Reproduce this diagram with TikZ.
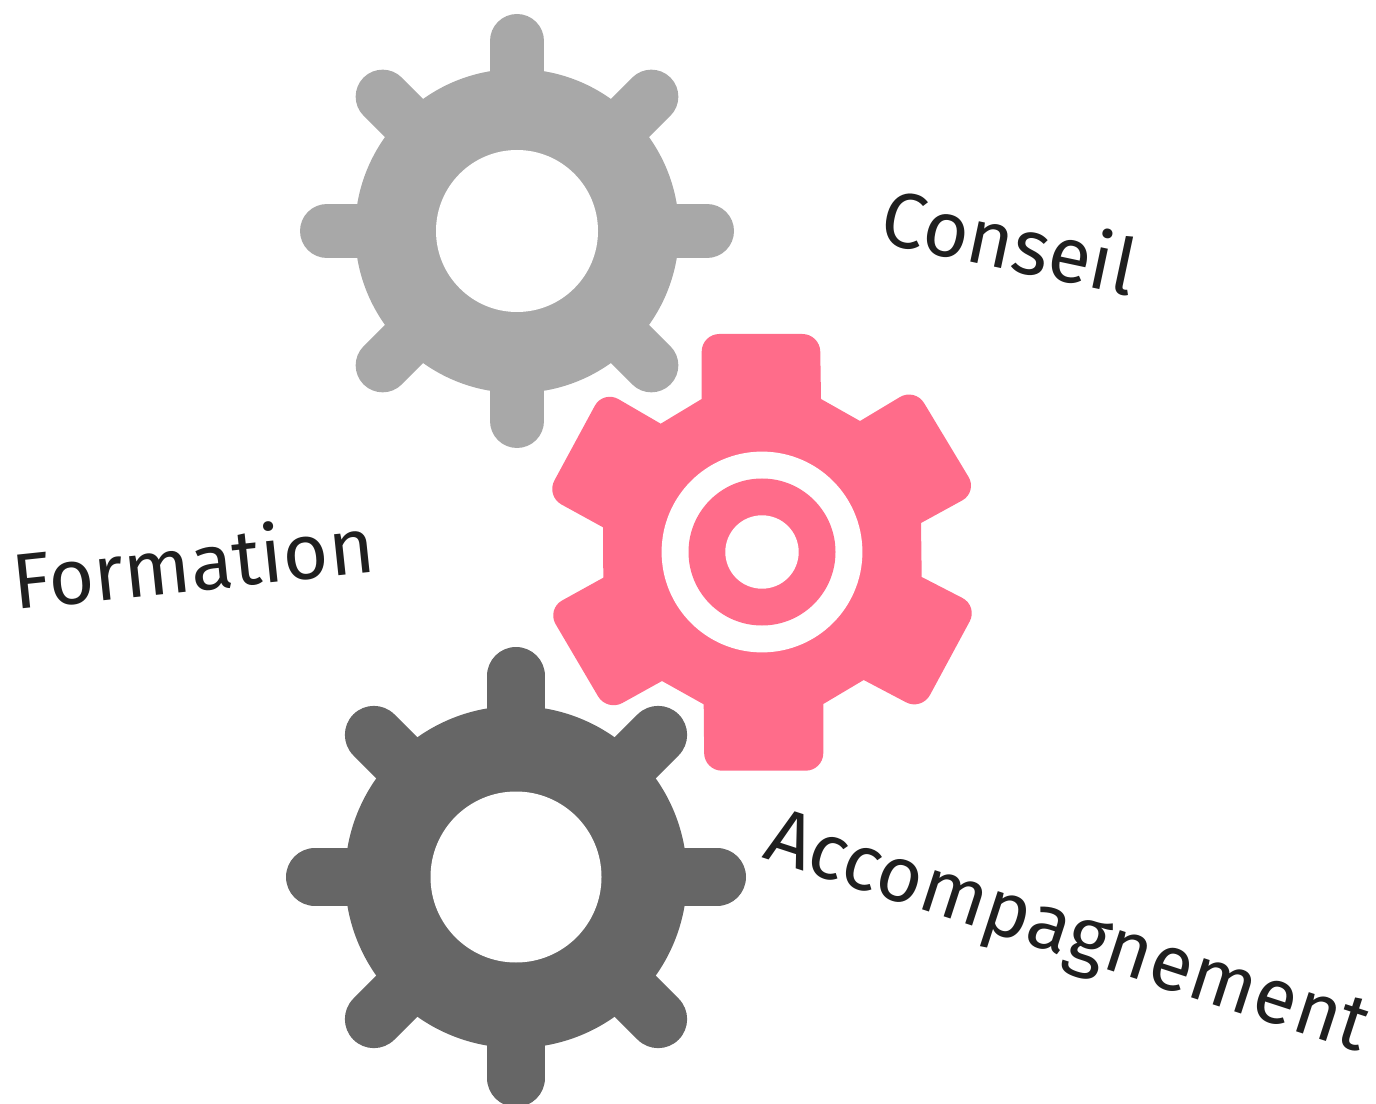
\documentclass[tikz,border=0pt]{standalone}
\usepackage{fontspec}
\setmainfont{Fira Sans}
\definecolor{lightgear}{HTML}{A8A8A8}
\definecolor{darkgear}{HTML}{666666}
\definecolor{pinkgear}{HTML}{FF6C8A}
\definecolor{labelink}{HTML}{1F1F1F}
\newcommand{\roundgear}[5]{%
  \fill[#1] (#2) circle (#3);
  \foreach \toothangle in {0,45,...,315}
    \draw[#1, line width=#5*2*0.02cm, line cap=round] (#2) -- ++(\toothangle:#4-#5);
  \fill[white] (#2) circle (#3*0.5);
}

\begin{document}
\begin{tikzpicture}[
    x=0.02cm,
    y=-0.02cm,
    label text/.style={text=labelink, font=\fontsize{44.5}{44.5}\selectfont, inner sep=0pt},
    tooth/.style={rounded corners=10pt}
    ]

    \useasboundingbox (0,0) rectangle (1376,1104);
    \begin{scope}
      \clip (0,0) rectangle (1376,1104);
      \roundgear{lightgear}{517,231}{162}{217}{27}
      \roundgear{darkgear}{516,877}{171}{230}{29}
    \end{scope}

    % centre gear
    \fill[pinkgear] (701.7,399) [tooth] -- (701.7,334) -- (820,334)
      [sharp corners] -- (821,399) -- (860,421)
      [tooth] -- (915,388) -- (977.6,492)
      [sharp corners] -- (921,523) -- (921.7,577)
      [tooth] -- (978,606) -- (921.6,710.5)
      [sharp corners] -- (863.7,680) -- (823.3,704)
      [tooth] -- (823.3,770.7) -- (704.3,770.7)
      [sharp corners] -- (703.7,704.3) -- (662,681)
      [tooth] -- (607,711.5) -- (546.7,609)
      [sharp corners] -- (603.3,577.7) -- (603,527.3)
      [tooth] -- (546,496) -- (603.2,390.3)
      [sharp corners] -- (660.7,423.7) -- cycle;
    \fill[white] (762,552) circle (100.4);
    \fill[pinkgear] (762,552) circle (73.5);
    \fill[white] (762,552) circle (36.7);

    \node[label text, rotate=-12] (conseil) at (1010,240) {Conseil};
    \node[label text, rotate=6] (formation) at (193,561) {Formation};
    \node[label text, rotate=-18] (accompagnement) at (1066,937) {Accompagnement};
\end{tikzpicture}
\end{document}
